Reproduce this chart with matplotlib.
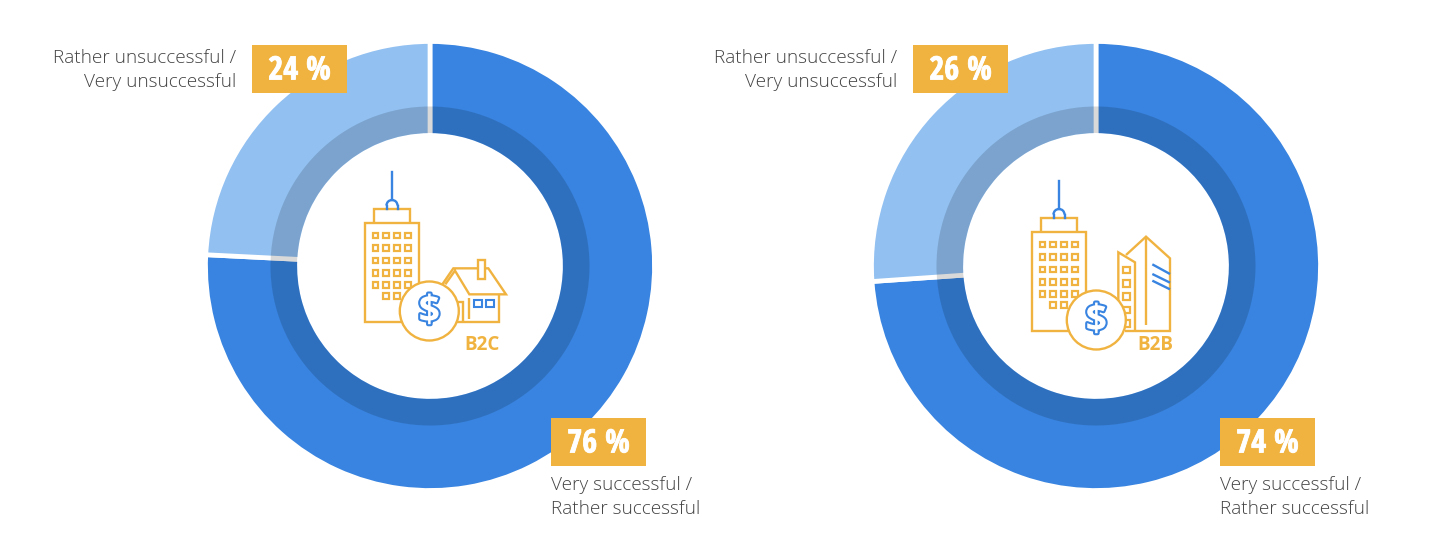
import matplotlib
matplotlib.use("Agg")
import matplotlib.pyplot as plt
from matplotlib.patches import Rectangle, Circle, Arc, Polygon
import matplotlib.patheffects as pe
import logging
logging.getLogger("matplotlib.font_manager").setLevel(logging.ERROR)

W, H = 1454, 554
charts = ["B2C", "B2B"]
successful = [75.8, 73.9]
unsuccessful = [24.2, 26.1]
success_label = "Very successful /\nRather successful"
fail_label = "Rather unsuccessful /\nVery unsuccessful"

BLUE = "#3884E0"
LIGHT = "#91C0F1"
YEL = "#F0B340"
TXT = "#444444"
FONT = "Open Sans"
NARROW = ["Open Sans Condensed", "Roboto Condensed", "Liberation Sans Narrow", "DejaVu Sans"]

fig = plt.figure(figsize=(W / 100, H / 100), dpi=100, facecolor="white")

centers = [(430, 266), (1096, 266)]
HALF = 240
for (cx, cy), a, b in zip(centers, successful, unsuccessful):
    ax = fig.add_axes([(cx - HALF) / W, 1 - (cy + HALF) / H, 2 * HALF / W, 2 * HALF / H])
    ax.pie([a, b], colors=[BLUE, LIGHT], startangle=90, counterclock=False, radius=224.5,
           wedgeprops=dict(width=94, edgecolor="white", linewidth=3.4))
    ax.pie([1], colors=["black"], radius=159.5, startangle=90,
           wedgeprops=dict(width=26.5, alpha=0.15, linewidth=0))
    ax.set_xlim(-HALF, HALF)
    ax.set_ylim(-HALF, HALF)
    ax.patch.set_alpha(0)

# Overlay in pixel coordinates for labels and icons
ov = fig.add_axes([0, 0, 1, 1])
ov.set_xlim(0, W)
ov.set_ylim(H, 0)
ov.axis("off")
ov.patch.set_alpha(0)

LW = 1.7


def poly(pts, color=YEL, closed=False, fc="none", lw=LW, z=3):
    ov.add_patch(Polygon(pts, closed=closed, fc=fc, ec=color, lw=lw, zorder=z, joinstyle="miter"))


def badge(x, y, text):
    ov.add_patch(Rectangle((x, y), 95, 48, fc=YEL, ec="none", zorder=6))
    ov.text(x + 47.5, y + 26, text, color="white", ha="center", va="center",
            fontsize=23.3, fontweight="bold", family=NARROW, zorder=7,
            path_effects=[pe.withStroke(linewidth=0.6, foreground="white")])


def tower(dx, dy):
    poly([(365 + dx, 223 + dy), (419 + dx, 223 + dy), (419 + dx, 322 + dy), (365 + dx, 322 + dy)], closed=True)
    poly([(374 + dx, 223 + dy), (374 + dx, 209 + dy), (410 + dx, 209 + dy), (410 + dx, 223 + dy)])
    ov.plot([392 + dx, 392 + dx], [172 + dy, 200 + dy], color=BLUE, lw=LW, zorder=3)
    ov.add_patch(Arc((392 + dx, 205.5 + dy), 11, 11, theta1=180, theta2=360, color=BLUE, lw=LW, zorder=3))
    ov.plot([386.5 + dx, 386.5 + dx], [205.5 + dy, 209 + dy], color=BLUE, lw=LW, zorder=3)
    ov.plot([397.5 + dx, 397.5 + dx], [205.5 + dy, 209 + dy], color=BLUE, lw=LW, zorder=3)
    for wy in [235.7, 248, 260.3, 272.7, 285]:
        for wx in [375.3, 386, 397, 408]:
            ov.add_patch(Rectangle((wx - 2.8 + dx, wy - 2.8 + dy), 5.6, 5.6, fc="none", ec=YEL, lw=1.6, zorder=3))
    for wx in [386, 397]:
        ov.add_patch(Rectangle((wx - 2.8 + dx, 295.7 - 2.8 + dy), 5.6, 5.6, fc="none", ec=YEL, lw=1.6, zorder=3))


def coin(dx, dy):
    x, y = 429.3 + dx, 311 + dy
    ov.add_patch(Circle((x, y), 29.5, fc="white", ec=YEL, lw=LW, zorder=4))
    ov.text(x, y + 1, "$", color="white", ha="center", va="center", fontsize=27, fontweight="bold",
            family=FONT, zorder=5,
            path_effects=[pe.withStroke(linewidth=3, foreground=BLUE)])


def z1(x, y):
    return (340 + x / 3, 160 + y / 3)


def z2(x, y):
    return (1010 + x / 3, 170 + y / 3)


# Left icon
tower(0, 0)
poly([z1(307, 373), z1(340, 325), z1(445, 325), z1(498, 403), z1(388, 403), z1(345, 332), z1(316, 373)])
poly([z1(476, 403), z1(476, 485), z1(350, 485)])
poly([z1(352, 427), z1(368, 427), z1(368, 485)])
poly([z1(388, 415), z1(388, 476)])
poly([z1(414, 358), z1(414, 300), z1(435, 300), z1(435, 358)], closed=True, fc="white")
for zx in [(403, 427), (438, 462)]:
    poly([z1(zx[0], 421), z1(zx[1], 421), z1(zx[1], 441), z1(zx[0], 441)], color=BLUE, closed=True, lw=1.5)
coin(0, 0)

# Right icon
tower(667, 9)
poly([z2(348, 255), z2(408, 200), z2(480, 265), z2(480, 483), z2(345, 483)])
poly([z2(408, 200), z2(408, 465)])
poly([z2(325, 480), z2(325, 247), z2(375, 277), z2(375, 483)])
for wy in [300, 340, 380, 420, 460]:
    a, b = z2(338, wy - 10), z2(360, wy + 10)
    ov.add_patch(Rectangle(a, b[0] - a[0], b[1] - a[1], fc="none", ec=YEL, lw=1.6, zorder=3))
for y0, y1 in [(283, 312), (312, 338), (332, 358)]:
    poly([z2(427, y0), z2(480, y1)], color=BLUE)
coin(667, 9)

ov.text(482.5, 344.5, charts[0], color=YEL, ha="center", va="center", fontsize=13.5, fontweight="bold", family=FONT)
ov.text(1155, 344.5, charts[1], color=YEL, ha="center", va="center", fontsize=13.5, fontweight="bold", family=FONT)

# Badges and labels
badge(252, 45, f"{round(unsuccessful[0])} %")
badge(551, 418, f"{round(successful[0])} %")
badge(913, 45, f"{round(unsuccessful[1])} %")
badge(1220, 418, f"{round(successful[1])} %")

for x, ha, y, s in [(236, "right", 70, fail_label), (897, "right", 70, fail_label),
                    (551, "left", 497, success_label), (1220, "left", 497, success_label)]:
    ov.text(x, y, s, color=TXT, ha=ha, va="center", fontsize=13.65, family=FONT, fontweight=300,
            linespacing=1.42, multialignment=ha)

fig.savefig("out.png", dpi=100, facecolor="white")
